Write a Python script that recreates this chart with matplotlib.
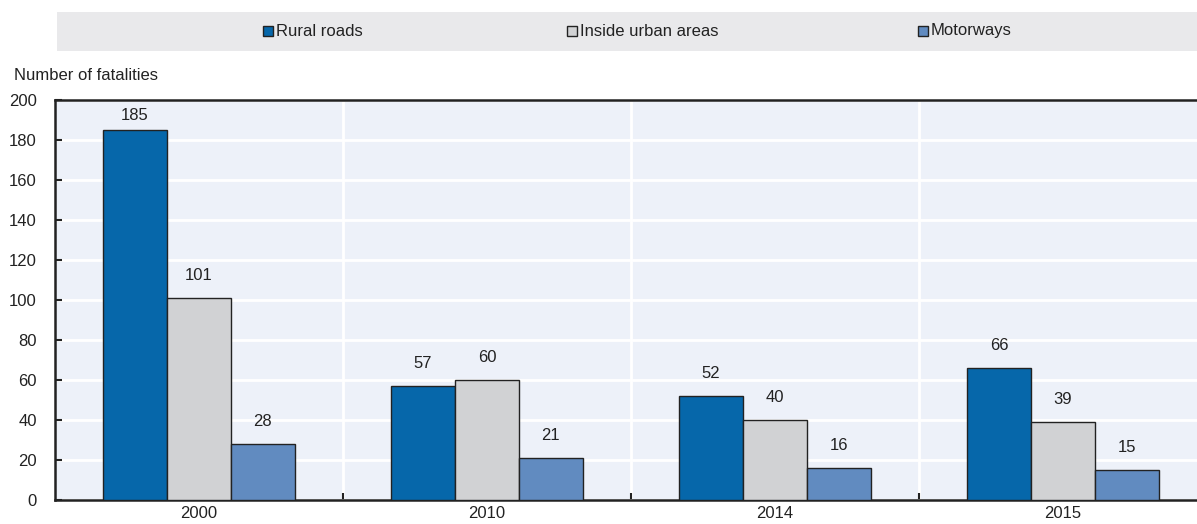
import matplotlib
matplotlib.use("Agg")
import matplotlib.pyplot as plt
from matplotlib.patches import Rectangle
import numpy as np

years = ["2000", "2010", "2014", "2015"]
series = ["Rural roads", "Inside urban areas", "Motorways"]
rural = [185, 57, 52, 66]
urban = [101, 60, 40, 39]
motorways = [28, 21, 16, 15]
colors = ["#0667aa", "#d1d2d4", "#618bc0"]

plt.rcParams["font.family"] = ["Liberation Sans Narrow", "Liberation Sans", "DejaVu Sans"]
plt.rcParams["font.size"] = 12
TXT = "#222222"

W, H = 1197, 524
fig = plt.figure(figsize=(W / 100, H / 100), dpi=100)
ax = fig.add_axes([55 / W, 24 / H, (1207 - 55) / W, 400 / H])
ax.set_facecolor("#edf1f9")

x = np.arange(len(years))
bw = 0.222
for i, (vals, c) in enumerate(zip([rural, urban, motorways], colors)):
    pos = x + (i - 1) * bw
    ax.bar(pos, vals, bw, color=c, edgecolor="#222222", linewidth=1.0, zorder=3)
    for p, v in zip(pos, vals):
        # label sits ~11 units above the bar, kept inside the plot frame
        ax.text(p, min(v + 11, 192), str(v), ha="center", va="center", color=TXT)

ax.set_xlim(-0.5, 3.5)
ax.set_ylim(0, 200)
ax.set_yticks(range(0, 201, 20))
ax.set_xticks(x)
ax.set_xticklabels(years)
ax.set_xticks(x[:-1] + 0.5, minor=True)
ax.grid(axis="y", color="white", linewidth=2, zorder=1)
ax.grid(axis="x", which="minor", color="white", linewidth=2, zorder=1)
ax.tick_params(axis="x", which="major", length=0, pad=4, colors=TXT)
ax.tick_params(axis="x", which="minor", direction="in", length=5, width=1.5, color="#222222")
ax.tick_params(axis="y", direction="in", length=5, width=1.5, color="#222222",
               pad=13, labelcolor=TXT)
for s in ["left", "bottom", "top"]:
    ax.spines[s].set_color("#222222")
    ax.spines[s].set_linewidth(1.8)
ax.spines["right"].set_visible(False)

fig.text(14 / W, 1 - 75 / H, "Number of fatalities", ha="left", va="center", color=TXT)

# legend band
fig.patches.append(Rectangle((57 / W, 1 - 51 / H), (W - 57) / W, 39 / H,
                             transform=fig.transFigure, facecolor="#e9e9eb",
                             edgecolor="none", zorder=0))
leg_x = [263, 567, 918]
for lx, name, c in zip(leg_x, series, colors):
    fig.patches.append(Rectangle((lx / W, 1 - 36 / H), 10 / W, 10 / H,
                                 transform=fig.transFigure, facecolor=c,
                                 edgecolor="#222222", linewidth=1.0, zorder=2))
    fig.text((lx + 13) / W, 1 - 31 / H, name, ha="left", va="center", color=TXT)

fig.savefig("out.png", dpi=100)
